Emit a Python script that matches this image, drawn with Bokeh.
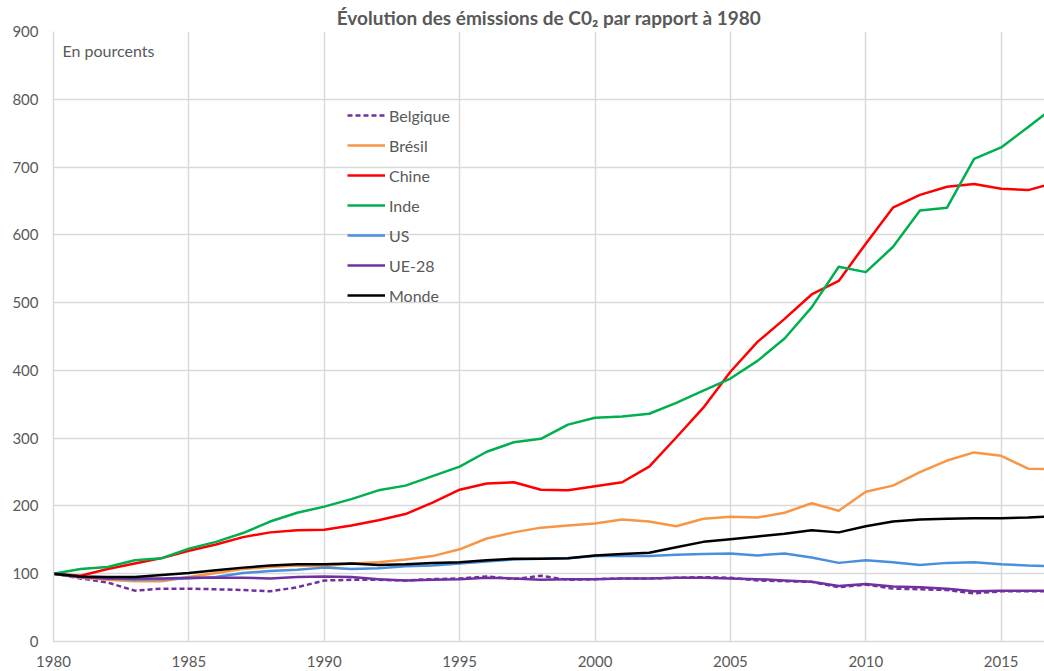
from bokeh.plotting import figure
from bokeh.models import Range1d, FixedTicker, Legend, LegendItem, Label
from bokeh.embed import file_html
from bokeh.resources import INLINE

years = list(range(1980, 2018))

belgique = [100, 93, 87, 75, 78, 78, 77, 76, 74, 80, 90, 91, 91, 90, 92, 93, 96, 92, 97, 91,
            92, 93, 93, 94, 95, 94, 90, 89, 88, 80, 84, 78, 77, 76, 71, 74, 74, 74]
bresil = [100, 94, 91, 89, 89, 95, 101, 107, 110, 112, 111, 115, 117, 121, 126, 136, 152, 161, 168, 171,
          174, 180, 177, 170, 181, 184, 183, 190, 204, 193, 221, 230, 250, 267, 279, 274, 255, 254]
chine = [100, 97, 107, 115, 123, 134, 143, 154, 161, 164, 165, 171, 179, 188, 205, 224, 233, 235, 224, 223,
         229, 235, 258, 301, 345, 398, 442, 476, 512, 532, 587, 640, 659, 671, 675, 668, 666, 677]
inde = [100, 107, 110, 120, 123, 137, 147, 160, 177, 190, 199, 210, 223, 230, 244, 258, 280, 294, 299, 320,
        330, 332, 336, 352, 370, 388, 414, 447, 493, 553, 545, 582, 636, 640, 712, 729, 759, 790]
us = [100, 95, 93, 91, 92, 93, 95, 101, 104, 106, 109, 107, 108, 111, 112, 115, 118, 121, 122, 123,
      126, 126, 126, 128, 129, 130, 127, 130, 124, 116, 120, 117, 113, 116, 117, 114, 112, 111]
ue28 = [100, 95, 93, 93, 93, 94, 94, 94, 93, 95, 96, 95, 92, 90, 91, 92, 94, 93, 91, 92,
        92, 93, 93, 94, 94, 93, 92, 90, 88, 82, 85, 81, 80, 78, 74, 75, 75, 75]
monde = [100, 96, 95, 95, 98, 101, 105, 109, 112, 114, 114, 115, 113, 114, 116, 117, 120, 122, 122, 123,
         127, 129, 131, 139, 147, 151, 155, 159, 164, 161, 170, 177, 180, 181, 182, 182, 183, 185]

series_names = ["Belgique", "Brésil", "Chine", "Inde", "US", "UE-28", "Monde"]
series_values = [belgique, bresil, chine, inde, us, ue28, monde]
series_colors = ["#7030A0", "#F79646", "#FF0000", "#00B050", "#4A8FDE", "#7030A0", "#000000"]
series_dash = ["5 3", "solid", "solid", "solid", "solid", "solid", "solid"]

x_ticks = list(range(1980, 2016, 5))
y_ticks = list(range(0, 901, 100))

TXT = "#595959"
FONT = "Lato"

p = figure(frame_width=991, frame_height=610, output_backend="svg", toolbar_location=None,
           x_range=Range1d(1980, 2016.6), y_range=Range1d(0, 900),
           min_border_left=53, min_border_right=0, min_border_top=31, min_border_bottom=0)

p.title.text = "Évolution des émissions de C0\u2082 par rapport à 1980"
p.title.align = "center"
p.title.text_font = FONT
p.title.text_font_style = "bold"
p.title.text_font_size = "19px"
p.title.text_color = TXT
p.title.offset = -8
p.title.standoff = 6

p.outline_line_color = None
p.background_fill_color = "white"
p.border_fill_color = "white"

for ax in (p.xaxis[0], p.yaxis[0]):
    ax.major_tick_line_color = None
    ax.minor_tick_line_color = None
    ax.axis_line_color = "#d9d9d9"
    ax.axis_line_width = 1.5
    ax.major_label_text_font = FONT
    ax.major_label_text_font_size = "15px"
    ax.major_label_text_color = TXT

p.xaxis.ticker = FixedTicker(ticks=x_ticks)
p.yaxis.ticker = FixedTicker(ticks=y_ticks)
p.xaxis.major_label_standoff = 8
p.yaxis.major_label_standoff = 9

p.xgrid.ticker = FixedTicker(ticks=x_ticks)
p.ygrid.ticker = FixedTicker(ticks=y_ticks)
p.grid.grid_line_color = "#d9d9d9"
p.grid.grid_line_width = 1.5

items = []
for name, vals, col, dash in zip(series_names, series_values, series_colors, series_dash):
    r = p.line(years, vals, line_color=col, line_width=2.5, line_dash=dash, line_join="round")
    items.append(LegendItem(label=name, renderers=[r]))

legend = Legend(items=items, location=(294, 336), orientation="vertical",
                border_line_color=None, background_fill_alpha=0,
                padding=0, margin=0, spacing=10, glyph_width=38, glyph_height=20,
                label_height=20, label_standoff=4,
                label_text_font=FONT, label_text_font_size="16px", label_text_color=TXT)
p.add_layout(legend, "center")

p.add_layout(Label(x=1980, y=900, text="En pourcents", x_offset=9, y_offset=-19,
                   text_baseline="middle", text_font=FONT, text_font_size="16px",
                   text_color=TXT))

open("out.html", "w").write(file_html(p, INLINE))
